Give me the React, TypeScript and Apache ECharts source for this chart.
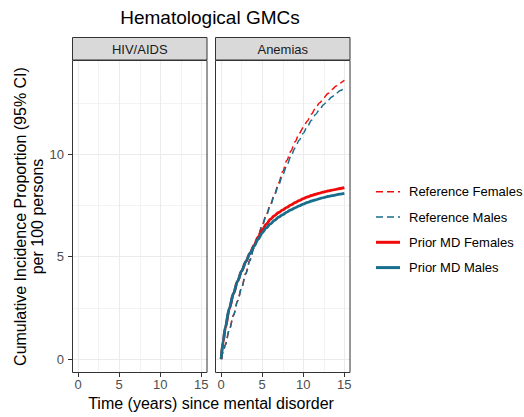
import React, { useEffect, useRef } from "react";
import * as echarts from "echarts";

const panels = ["HIV/AIDS", "Anemias"];
const xTicks = [0, 5, 10, 15];
const yTicks = [0, 5, 10];
const seriesNames = ["Reference Females", "Reference Males", "Prior MD Females", "Prior MD Males"];
const seriesColors = ["#F20A0A", "#176E8C", "#F20A0A", "#176E8C"];
const seriesDashed = [true, true, false, false];

const times = [0, 0.25, 0.5, 1, 1.5, 2, 2.5, 3, 3.5, 4, 4.5, 5, 5.5, 6, 6.5, 7, 7.5, 8, 8.5, 9, 9.5, 10, 10.5, 11, 11.5, 12, 12.5, 13, 13.5, 14, 14.5, 15];
const refFemales = [0, 0.35, 0.7, 1.45, 2.15, 2.85, 3.5, 4.2, 4.85, 5.45, 6.0, 6.55, 7.05, 7.55, 8.05, 8.6, 9.15, 9.7, 10.15, 10.6, 11.0, 11.3, 11.62, 11.95, 12.25, 12.5, 12.75, 12.95, 13.15, 13.32, 13.47, 13.6];
const refMales = [0, 0.33, 0.68, 1.42, 2.12, 2.82, 3.48, 4.15, 4.8, 5.4, 5.95, 6.5, 7.0, 7.5, 8.0, 8.5, 9.0, 9.45, 9.9, 10.3, 10.68, 11.02, 11.35, 11.65, 11.93, 12.2, 12.42, 12.62, 12.8, 12.96, 13.1, 13.22];
const priorFemales = [0, 0.85, 1.5, 2.45, 3.2, 3.8, 4.3, 4.75, 5.15, 5.55, 5.95, 6.3, 6.58, 6.82, 7.0, 7.15, 7.28, 7.4, 7.52, 7.63, 7.73, 7.83, 7.91, 7.98, 8.04, 8.1, 8.15, 8.2, 8.24, 8.28, 8.32, 8.36];
const priorMales = [0, 0.9, 1.55, 2.5, 3.2, 3.8, 4.3, 4.75, 5.15, 5.5, 5.85, 6.15, 6.4, 6.6, 6.77, 6.92, 7.05, 7.17, 7.28, 7.38, 7.47, 7.56, 7.64, 7.71, 7.77, 7.83, 7.88, 7.93, 7.97, 8.01, 8.05, 8.08];
const seriesValues = [refFemales, refMales, priorFemales, priorMales];

const FONT = "Liberation Sans, Arial, sans-serif";

export default function App() {
  const ref = useRef<HTMLDivElement>(null);
  useEffect(() => {
    if (!ref.current) return;
    const chart = echarts.init(ref.current, null, { renderer: "svg" });
    const panelLefts = [72, 215];
    const panelWidth = 135.5;
    const panelTop = 60;
    const panelHeight = 313;

    const xAxes = panels.map((_, i) => ({
      type: "value",
      gridIndex: i,
      min: -0.75,
      max: 15.75,
      splitNumber: 3,
      axisLine: { show: false, onZero: false },
      axisTick: { show: true, length: 4, lineStyle: { color: "#333333", width: 1 }, customValues: xTicks },
      axisLabel: {
        show: true,
        customValues: xTicks,
        color: "#4D4D4D",
        fontSize: 13,
        fontFamily: FONT,
        margin: 5,
        formatter: (v: number) => (xTicks.includes(v) ? String(v) : ""),
      },
      splitLine: { show: true, lineStyle: { color: "#EBEBEB", width: 1.1 } },
      minorTick: { show: false, splitNumber: 2 },
      minorSplitLine: { show: true, lineStyle: { color: "#EBEBEB", width: 0.6 } },
    }));
    const yAxes = panels.map((_, i) => ({
      type: "value",
      gridIndex: i,
      min: -0.68,
      max: 14.59,
      splitNumber: 3,
      axisLine: { show: false, onZero: false },
      axisTick: { show: i === 0, length: 4, lineStyle: { color: "#333333", width: 1 }, customValues: yTicks },
      axisLabel: {
        show: i === 0,
        customValues: yTicks,
        color: "#4D4D4D",
        fontSize: 13,
        fontFamily: FONT,
        margin: 8,
        formatter: (v: number) => (yTicks.includes(v) ? String(v) : ""),
      },
      splitLine: { show: true, lineStyle: { color: "#EBEBEB", width: 1.1 } },
      minorTick: { show: false, splitNumber: 2 },
      minorSplitLine: { show: true, lineStyle: { color: "#EBEBEB", width: 0.6 } },
    }));

    const series = seriesNames.map((name, k) => ({
      name,
      type: "line",
      xAxisIndex: 1,
      yAxisIndex: 1,
      data: times.map((t, j) => [t, seriesValues[k][j]]),
      showSymbol: false,
      symbol: "none",
      smooth: 0.3,
      smoothMonotone: "x",
      z: 3,
      lineStyle: {
        color: seriesColors[k],
        width: seriesDashed[k] ? 1.5 : 2.8,
        type: seriesDashed[k] ? [7, 4] : "solid",
      },
    }));

    const graphics: any[] = [];
    graphics.push({
      type: "text",
      x: 210,
      y: 17,
      style: { text: "Hematological GMCs", font: `19px ${FONT}`, fill: "#000", align: "center", verticalAlign: "middle" },
    });
    panels.forEach((p, i) => {
      const l = panelLefts[i];
      graphics.push({
        type: "rect",
        shape: { x: l + 0.5, y: 37.5, width: panelWidth - 1, height: 22.5 },
        style: { fill: "#D9D9D9", stroke: "#333333", lineWidth: 1 },
        z: 20,
      });
      graphics.push({
        type: "text",
        x: l + panelWidth / 2,
        y: 49,
        style: { text: p, font: `13px ${FONT}`, fill: "#1A1A1A", align: "center", verticalAlign: "middle" },
        z: 21,
      });
      graphics.push({
        type: "rect",
        shape: { x: l + 0.5, y: panelTop + 0.5, width: panelWidth - 1, height: panelHeight - 1 },
        style: { fill: "none", stroke: "#333333", lineWidth: 1 },
        z: 20,
      });
    });
    graphics.push({
      type: "text",
      x: 28.5,
      y: 216.5,
      rotation: Math.PI / 2,
      style: {
        text: "Cumulative Incidence Proportion (95% CI)\nper 100 persons",
        font: `16px ${FONT}`,
        fill: "#000",
        align: "center",
        verticalAlign: "middle",
        lineHeight: 17,
      },
    });
    graphics.push({
      type: "text",
      x: 211,
      y: 403,
      style: { text: "Time (years) since mental disorder", font: `16px ${FONT}`, fill: "#000", align: "center", verticalAlign: "middle" },
    });
    seriesNames.forEach((name, k) => {
      const cy = 191.7 + 25.3 * k;
      graphics.push({
        type: "line",
        shape: { x1: 376, y1: cy, x2: 400, y2: cy },
        style: {
          stroke: seriesColors[k],
          lineWidth: seriesDashed[k] ? 1.5 : 3,
          lineDash: seriesDashed[k] ? [7, 4] : null,
        },
      });
      graphics.push({
        type: "text",
        x: 409,
        y: cy,
        style: { text: name, font: `13px ${FONT}`, fill: "#000", align: "left", verticalAlign: "middle" },
      });
    });

    chart.setOption({
      animation: false,
      backgroundColor: "#ffffff",
      grid: panels.map((_, i) => ({ left: panelLefts[i], top: panelTop, width: panelWidth, height: panelHeight, show: false })),
      xAxis: xAxes,
      yAxis: yAxes,
      series,
      graphic: graphics,
    });
    return () => chart.dispose();
  }, []);
  return <div ref={ref} style={{ width: 524, height: 417, position: "absolute", left: 0, top: 0 }} />;
}
